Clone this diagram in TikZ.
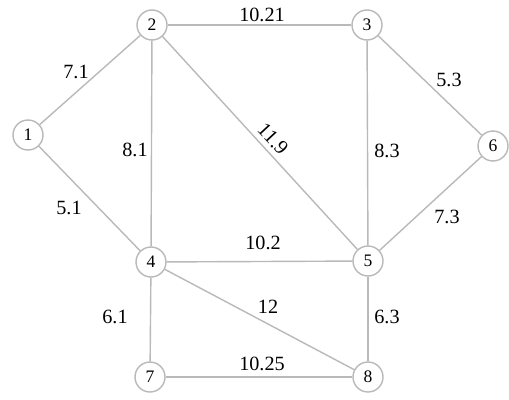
\documentclass[tikz,border=0pt]{standalone}
\usepackage{fontspec}
\setmainfont{Liberation Serif}
\usetikzlibrary{positioning}
\definecolor{grigioLinea}{RGB}{185, 185, 185}

\begin{document}
\begin{tikzpicture}[x=0.02cm, y=-0.02cm,
    vertice/.style={circle, draw=grigioLinea, thick, fill=white, minimum size=0.6cm, inner sep=0pt, font=\fontsize{10}{12}\selectfont},
    arco/.style={draw=grigioLinea, thick},
    peso/.style={font=\fontsize{11.5}{13}\selectfont, inner sep=1pt}]
                \useasboundingbox (0,0) rectangle (509,399);

                % Vertices
                \node[vertice] (v1) at (28,135) {1};
                \node[vertice] (v2) at (152,25) {2};
                \node[vertice] (v3) at (367,25) {3};
                \node[vertice] (v4) at (151,262) {4};
                \node[vertice] (v5) at (368,261) {5};
                \node[vertice] (v6) at (493,146) {6};
                \node[vertice] (v7) at (150,377) {7};
                \node[vertice] (v8) at (368,377) {8};

                % Edges
                \draw[arco] (v1) -- (v2);
                \draw[arco] (v1) -- (v4);
                \draw[arco] (v2) -- (v3);
                \draw[arco] (v2) -- (v4);
                \draw[arco] (v2) -- (v5);
                \draw[arco] (v3) -- (v5);
                \draw[arco] (v3) -- (v6);
                \draw[arco] (v6) -- (v5);
                \draw[arco] (v4) -- (v5);
                \draw[arco] (v4) -- (v8);
                \draw[arco] (v4) -- (v7);
                \draw[arco] (v5) -- (v8);
                \draw[arco] (v7) -- (v8);

                % Weights
                \node[peso] (w12) at (76,72) {7.1};
                \node[peso] (w14) at (69,208) {5.1};
                \node[peso] (w23) at (262,15) {10.21};
                \node[peso] (w24) at (135,150) {8.1};
                \node[peso, rotate=-47] (w25) at (273,139) {11.9};
                \node[peso] (w35) at (387,151) {8.3};
                \node[peso] (w36) at (449,80) {5.3};
                \node[peso] (w56) at (447,217) {7.3};
                \node[peso] (w45) at (263,243) {10.2};
                \node[peso] (w48) at (268,307) {12};
                \node[peso] (w47) at (115,317) {6.1};
                \node[peso] (w58) at (387,317) {6.3};
                \node[peso] (w78) at (262,364) {10.25};
            \end{tikzpicture}
\end{document}
